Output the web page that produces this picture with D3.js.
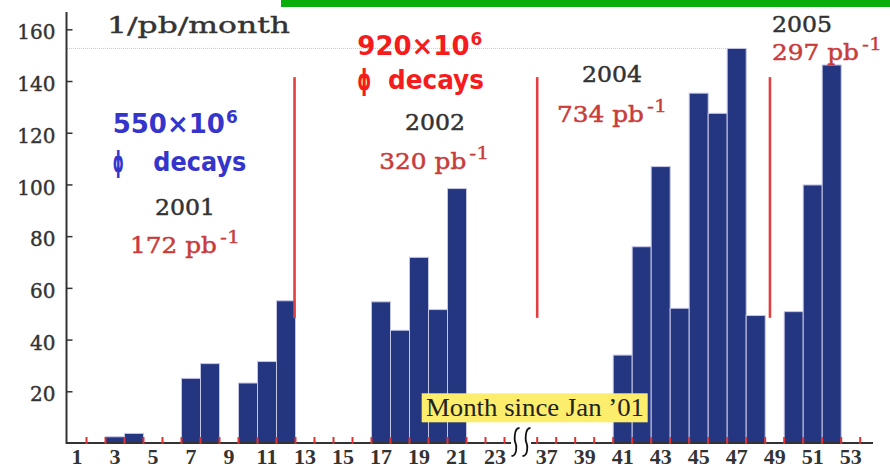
<!DOCTYPE html>
<html>
<head>
<meta charset="utf-8">
<script src="https://cdn.jsdelivr.net/npm/d3@7"></script>
<style>
  html, body { margin: 0; padding: 0; background: #fff; }
  svg { display: block; }
</style>
</head>
<body>
<svg id="chart" width="890" height="472"></svg>
<script>
// Monthly integrated luminosity (1/pb per month), months counted from Jan 2001
const months = [3, 4, 7, 8, 10, 11, 12, 17, 18, 19, 20, 21, 41, 42, 43, 44, 45, 46, 47, 48, 50, 51, 52];
const lumi   = [2.4, 3.7, 25.0, 30.7, 23.2, 31.5, 55.0, 54.6, 43.6, 71.8, 51.6, 98.4,
                34.0, 75.9, 106.9, 52.1, 135.3, 127.5, 152.6, 49.3, 50.8, 99.8, 146.2];

// Axis labels
const yTicks  = [20, 40, 60, 80, 100, 120, 140, 160];
const xLabels = [1, 3, 5, 7, 9, 11, 13, 15, 17, 19, 21, 23, 37, 39, 41, 43, 45, 47, 49, 51, 53];

// Run periods: year, total luminosity, and month where each period ends
const years      = ["2001", "2002", "2004", "2005"];
const yearLumi   = [172, 320, 734, 297];
const dividers   = [12.45, 36.5, 48.75];
const dividerTop = 141.5, dividerBottom = 48.4;

const svg = d3.select("#chart");

// Month axis with a break between month 23 and month 37
const x = d3.scaleLinear()
  .domain([0.5, 23.5, 36.5, 53.5])
  .range([67.5, 504.5, 537.2, 860.2]);
const y = d3.scaleLinear().domain([0, 160]).range([443, 29.3]);

const serif = "'DejaVu Serif', serif";
const comic = "'DejaVu Sans', sans-serif";
const grey = "#333";
const lumiRed = "#c83c3c";

// green strip along the top
svg.append("rect").attr("x", 281).attr("y", 0).attr("width", 609).attr("height", 7).attr("fill", "#0aae0a");

// dotted reference line at the peak month
const peak = d3.max(lumi);
const peakMonth = months[lumi.indexOf(peak)];
svg.append("line")
  .attr("x1", 67).attr("x2", x(peakMonth - 0.5))
  .attr("y1", y(peak)).attr("y2", y(peak))
  .attr("stroke", "#c8c8c8").attr("stroke-width", 1).attr("stroke-dasharray", "1,1");

// bars
svg.append("g").selectAll("rect")
  .data(months.map((m, i) => ({ m, v: lumi[i] })))
  .join("rect")
  .attr("x", d => x(d.m - 0.5))
  .attr("width", d => x(d.m + 0.5) - x(d.m - 0.5))
  .attr("y", d => y(d.v))
  .attr("height", d => y(0) - y(d.v))
  .attr("fill", "#24367f")
  .attr("stroke", "#c4c6e6")
  .attr("stroke-width", 1);

// red period dividers
svg.append("g").selectAll("line")
  .data(dividers)
  .join("line")
  .attr("x1", d => x(d)).attr("x2", d => x(d))
  .attr("y1", y(dividerTop)).attr("y2", y(dividerBottom))
  .attr("stroke", "#e04040").attr("stroke-width", 2.6);

// y axis
svg.append("line").attr("x1", 66.5).attr("x2", 66.5).attr("y1", 12).attr("y2", 444)
  .attr("stroke", grey).attr("stroke-width", 2);
const yAxis = svg.append("g")
  .attr("transform", "translate(66.5,0)")
  .call(d3.axisLeft(y).tickValues(yTicks).tickSize(-6).tickPadding(11));
yAxis.select(".domain").remove();
yAxis.selectAll(".tick line").attr("stroke", grey).attr("stroke-width", 1.5);
yAxis.selectAll(".tick text")
  .attr("font-family", serif).attr("font-size", 20).attr("fill", grey)
  .attr("stroke", grey).attr("stroke-width", 0.4)
  .attr("dy", "0.48em");

// x axis line, broken around the gap
svg.append("line").attr("x1", 66).attr("x2", 511).attr("y1", 443).attr("y2", 443)
  .attr("stroke", grey).attr("stroke-width", 2);
svg.append("line").attr("x1", 531).attr("x2", 873).attr("y1", 443).attr("y2", 443)
  .attr("stroke", grey).attr("stroke-width", 2);

// red ticks on month edges
const edges = d3.range(1.5, 24, 1).concat(d3.range(36.5, 54, 1));
svg.append("g").selectAll("line")
  .data(edges)
  .join("line")
  .attr("x1", d => x(d)).attr("x2", d => x(d))
  .attr("y1", 437).attr("y2", 444)
  .attr("stroke", "#e03030").attr("stroke-width", 2);

// x labels
svg.append("g").selectAll("text")
  .data(xLabels)
  .join("text")
  .attr("x", d => x(d)).attr("y", 464)
  .attr("text-anchor", "middle")
  .attr("font-family", "'Liberation Serif', serif").attr("font-weight", "bold")
  .attr("font-size", 22).attr("fill", grey)
  .text(d => d);

// axis break marks
[515.5, 526.5].forEach(bx => {
  svg.append("path")
    .attr("d", `M${bx + 4},428 C${bx - 2},428 ${bx - 1},441 ${bx},443 C${bx + 1},445 ${bx + 2},456 ${bx - 4},456`)
    .attr("fill", "none").attr("stroke", "#111").attr("stroke-width", 1.8);
});

// axis title box
svg.append("rect").attr("x", 421.7).attr("y", 393.3).attr("width", 226).attr("height", 29)
  .attr("fill", "#fcee6c");
svg.append("text").attr("x", 426).attr("y", 415.5)
  .attr("font-family", "'Liberation Serif', serif").attr("font-size", 26).attr("fill", "#222")
  .attr("textLength", 218).attr("lengthAdjust", "spacingAndGlyphs")
  .text("Month since Jan \u201901");

// unit label
svg.append("text").attr("x", 107).attr("y", 33.3)
  .attr("font-family", serif).attr("font-size", 23).attr("fill", grey)
  .attr("stroke", grey).attr("stroke-width", 0.4)
  .attr("textLength", 183).attr("lengthAdjust", "spacingAndGlyphs")
  .text("1/pb/month");

// year and luminosity labels
const yearPos = [[155, 215], [405, 130], [582, 82], [772, 32]];
const lumiPos = [[130, 253], [379.3, 169.3], [557, 121.7], [772, 60]];
years.forEach((yr, i) => {
  svg.append("text").attr("x", yearPos[i][0]).attr("y", yearPos[i][1])
    .attr("font-family", serif).attr("font-size", 23).attr("fill", grey)
    .attr("stroke", grey).attr("stroke-width", 0.5)
    .attr("textLength", 60).attr("lengthAdjust", "spacingAndGlyphs")
    .text(yr);
  const [lx, ly] = lumiPos[i];
  svg.append("text").attr("x", lx).attr("y", ly)
    .attr("font-family", serif).attr("font-size", 23).attr("fill", lumiRed)
    .attr("stroke", lumiRed).attr("stroke-width", 0.5)
    .attr("textLength", 87).attr("lengthAdjust", "spacingAndGlyphs")
    .text(`${yearLumi[i]} pb`);
  svg.append("text").attr("x", lx + 90).attr("y", ly - 10)
    .attr("font-family", serif).attr("font-size", 16).attr("fill", lumiRed)
    .attr("stroke", lumiRed).attr("stroke-width", 0.3)
    .attr("textLength", 20).attr("lengthAdjust", "spacingAndGlyphs")
    .text("-1");
});

// decay counts
function decayLabel(count, color, x0, base1, base2, phiW, decX, decW) {
  const t = svg.append("text").attr("x", x0).attr("y", base1)
    .attr("font-family", comic).attr("font-weight", "bold").attr("fill", color);
  t.append("tspan").attr("font-size", 26).text(`${count}\u00d710`);
  t.append("tspan").attr("font-size", 17).attr("dx", 1).attr("dy", -10).text("6");
  svg.append("text").attr("x", x0).attr("y", base2 + 1)
    .attr("font-family", comic).attr("font-weight", "bold").attr("font-size", 28).attr("fill", color)
    .attr("textLength", phiW).attr("lengthAdjust", "spacingAndGlyphs")
    .text("\u03d5");
  svg.append("text").attr("x", decX).attr("y", base2)
    .attr("font-family", comic).attr("font-weight", "bold").attr("font-size", 27).attr("fill", color)
    .attr("textLength", decW).attr("lengthAdjust", "spacingAndGlyphs")
    .text("decays");
}
decayLabel(550, "#3535cc", 112.7, 133.3, 170.7, 11, 153.3, 93);
decayLabel(920, "#f41c1c", 357.3, 55, 89.3, 14, 388, 96);
</script>
</body>
</html>
